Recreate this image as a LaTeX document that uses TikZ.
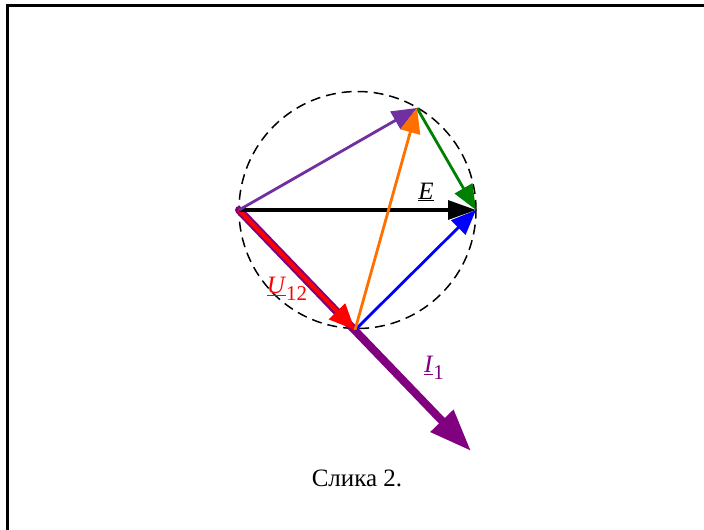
\documentclass[tikz,border=0pt]{standalone}
\usepackage{fontspec}
\setmainfont{Liberation Serif}
\usepackage{xcolor}
\usetikzlibrary{arrows.meta}
\definecolor{vecviolet}{RGB}{112,48,160}
\definecolor{curpurple}{RGB}{128,0,128}
\definecolor{vecorange}{RGB}{255,112,0}
\definecolor{vecgreen}{RGB}{0,128,0}
\newcommand{\phasor}[2]{\underline{\textit{#1\/}}\raisebox{-7pt}{\fontsize{21}{24}\selectfont #2}}

\begin{document}
\begin{tikzpicture}[x=1pt, y=-1pt,
    vec/.style={line width=2.8pt, -{Triangle[length=25pt, width=20pt]}},
    lbl/.style={inner sep=0pt, font=\fontsize{25}{30}\selectfont},
]
\useasboundingbox (0,0) rectangle (704,530);
\draw[line width=3pt] (7,530) -- (7,5) -- (704,5);

\coordinate (O) at (239,210);
\coordinate (E) at (476,210);
\coordinate (T) at (417,108);
\coordinate (B) at (355,330);
\coordinate (I) at (471,451);
\coordinate (M) at (357.5,210);

\draw[line width=1.5pt, dash pattern=on 10pt off 6pt] (M) circle[radius=118.5pt];

\draw[curpurple, line width=8pt, line cap=round, -{Triangle[length=42pt, width=30pt]}] (O) -- (I);
\draw[red, line width=4pt, -{Triangle[length=26pt, width=22pt]}] (O) -- (B);
\draw[vec, line width=3.2pt, -{Triangle[length=28pt, width=19pt]}] (O) -- (E);
\draw[vec, vecviolet] (O) -- (T);
\draw[vec, vecgreen] (T) -- (E);
\draw[vec, blue] (B) -- (E);
\draw[vec, vecorange] (B) -- (T);

\node[lbl] (lE) at (426,192) {\underline{\textit{E\/}}};
\node[lbl, text=red] (lU) at (287,289) {\phasor{U}{12}};
\node[lbl, text=curpurple] (lI) at (434,368) {\phasor{I}{1}};
\node[font=\fontsize{25}{30}\selectfont] (cap) at (357,478) {Слика 2.};
\end{tikzpicture}
\end{document}
